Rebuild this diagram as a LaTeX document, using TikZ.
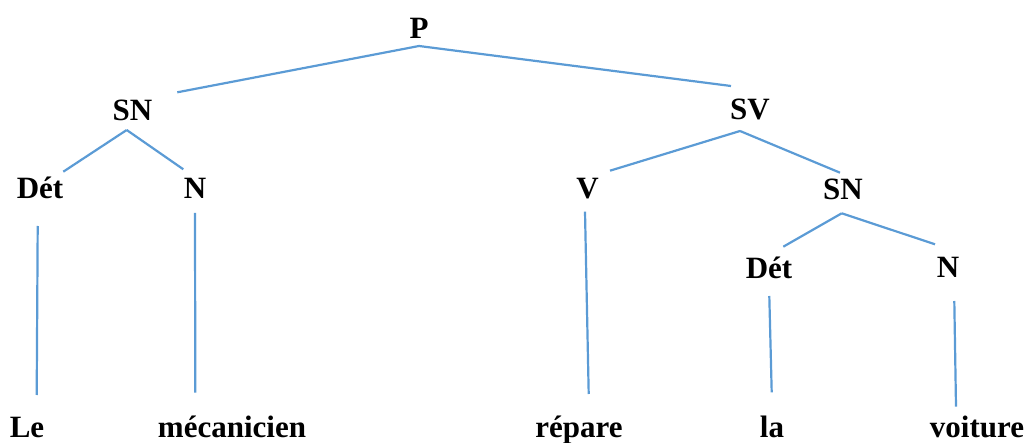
\documentclass[tikz,border=0pt]{standalone}
\usepackage{fontspec}
\setmainfont{Liberation Serif}
\begin{document}
\begin{tikzpicture}[x=1pt,y=-1pt,
  lbl/.style={anchor=base,inner sep=0pt,font=\fontsize{31}{37}\selectfont\bfseries},
  edge/.style={draw={rgb,255:red,91;green,155;blue,213},line width=2.2pt}]
\useasboundingbox (0,0) rectangle (1030,443);
% nodes
\node[lbl] (P) at (419,39) {P};
\node[lbl] (SNl) at (132.5,120.7) {SN};
\node[lbl] (SV) at (750,120) {SV};
\node[lbl] (Detl) at (40,199) {Dét};
\node[lbl] (Nl) at (195,199) {N};
\node[lbl] (V) at (587.5,199) {V};
\node[lbl] (SNr) at (843,200) {SN};
\node[lbl] (Detr) at (769,278.3) {Dét};
\node[lbl] (Nr) at (948,278) {N};
\node[lbl] (Le) at (27,437) {Le};
\node[lbl] (mec) at (232,437) {mécanicien};
\node[lbl] (rep) at (579,437) {répare};
\node[lbl] (la) at (772,437) {la};
\node[lbl] (voi) at (977,437) {voiture};
% connectors
\draw[edge] ([shift={(0,7)}]P.base) -- ([shift={(44.8,-28.4)}]SNl.base);
\draw[edge] ([shift={(0,7)}]P.base) -- ([shift={(-19,-34)}]SV.base);
\draw[edge] ([shift={(-5.8,9.3)}]SNl.base) -- ([shift={(23.3,-27.3)}]Detl.base);
\draw[edge] ([shift={(-5.8,9.3)}]SNl.base) -- ([shift={(-11.7,-29.7)}]Nl.base);
\draw[edge] ([shift={(-10,11)}]SV.base) -- ([shift={(22.5,-28.3)}]V.base);
\draw[edge] ([shift={(-10,11)}]SV.base) -- ([shift={(-3,-27.3)}]SNr.base);
\draw[edge] ([shift={(-1.3,13.3)}]SNr.base) -- ([shift={(14.3,-31.6)}]Detr.base);
\draw[edge] ([shift={(-1.3,13.3)}]SNr.base) -- ([shift={(-13,-33.7)}]Nr.base);
\draw[edge] ([shift={(-2.3,27)}]Detl.base) -- ([shift={(9.7,-42)}]Le.base);
\draw[edge] ([shift={(0,14)}]Nl.base) -- ([shift={(-36.7,-44.3)}]mec.base);
\draw[edge] ([shift={(-2.5,12.7)}]V.base) -- ([shift={(9.7,-43)}]rep.base);
\draw[edge] ([shift={(0.3,17.7)}]Detr.base) -- ([shift={(-0.3,-44.7)}]la.base);
\draw[edge] ([shift={(6.3,23)}]Nr.base) -- ([shift={(-21,-30.3)}]voi.base);
\end{tikzpicture}
\end{document}
